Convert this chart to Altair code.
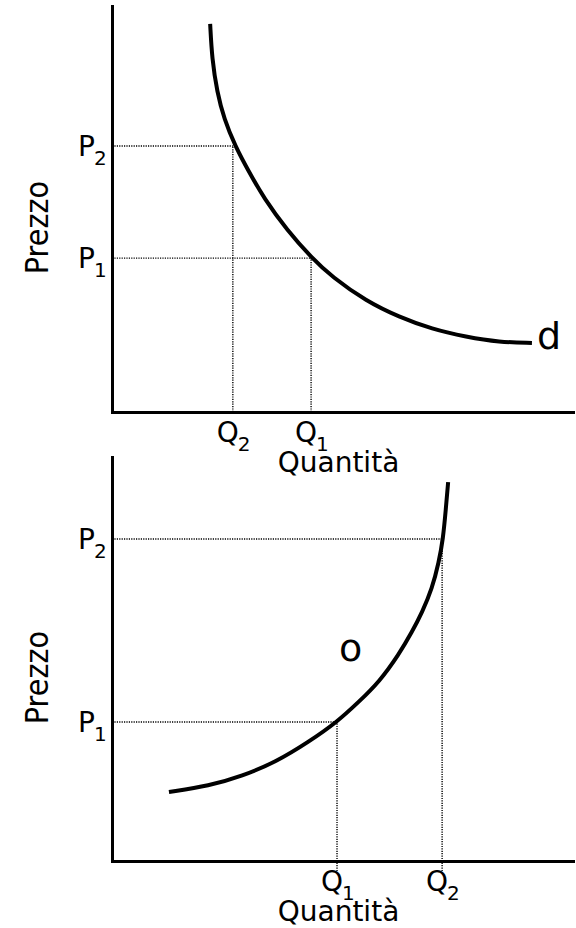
import altair as alt
import pandas as pd

# ---- Demand curve "d" (quantity, price) ----
dem_q = [2.12, 2.16, 2.27, 2.42, 2.66, 2.96, 3.28, 3.78, 4.32, 4.75, 5.49, 6.20, 6.91, 7.65, 8.36, 9.07]
dem_p = [9.56, 8.70, 7.88, 7.22, 6.55, 5.91, 5.27, 4.48, 3.79, 3.33, 2.73, 2.34, 2.04, 1.85, 1.72, 1.70]

# ---- Supply curve "o" (quantity, price) ----
sup_q = [1.23, 2.10, 2.81, 3.54, 4.25, 4.86, 5.33, 5.77, 6.20, 6.48, 6.70, 6.91, 7.06, 7.15, 7.21, 7.26]
sup_p = [1.71, 1.86, 2.10, 2.45, 2.95, 3.44, 3.94, 4.43, 5.12, 5.67, 6.16, 6.73, 7.40, 7.97, 8.71, 9.38]

# ---- Marked points: index 0 -> (Q1, P1), index 1 -> (Q2, P2) ----
subscripts = ["1", "2"]
dem_pts_q = [4.30, 2.61]
dem_pts_p = [3.79, 6.55]
sup_pts_q = [4.86, 7.13]
sup_pts_p = [3.44, 7.97]

# lower end of the vertical guides
dem_floor = 0.0
sup_floor = -0.25

FONT = "DejaVu Sans"
W = 463


def panel(curve_q, curve_p, pts_q, pts_p, floor, curve_name, name_idx, name_dx, name_dy, height):
    xs = alt.Scale(domain=[0, 10], nice=False, zero=False)
    ys = alt.Scale(domain=[0, 10], nice=False, zero=False)
    x_axis = alt.Axis(
        title="Quantità", domain=True, domainColor="black", domainWidth=3, domainCap="square",
        ticks=False, labels=False, grid=False,
        titleFont=FONT, titleFontSize=28, titleFontWeight="normal", titleColor="black",
        titleX=226, titleY=59, titleBaseline="alphabetic", titleAlign="center",
    )
    y_axis = alt.Axis(
        title="Prezzo", domain=True, domainColor="black", domainWidth=3, domainCap="square",
        ticks=False, labels=False, grid=False,
        titleFont="DejaVu Sans Condensed, DejaVu Sans", titleFontSize=32, titleFontWeight="normal",
        titleColor="black", titleAngle=270,
        titleX=-65, titleY=height / 2 + 18, titleBaseline="alphabetic", titleAlign="center",
    )
    X = alt.X("q:Q", scale=xs, axis=x_axis)
    Y = alt.Y("p:Q", scale=ys, axis=y_axis)

    curve = pd.DataFrame({"q": curve_q, "p": curve_p})
    pts = pd.DataFrame({"q": pts_q, "p": pts_p, "sub": subscripts})
    pts["zero"] = 0.0
    pts["floor"] = floor

    guide_style = dict(color="black", strokeWidth=1.4, strokeDash=[1.2, 1.2])
    h_guides = alt.Chart(pts).mark_rule(**guide_style).encode(
        x=alt.X("zero:Q", scale=xs, axis=x_axis), x2="q:Q", y=Y
    )
    v_guides = alt.Chart(pts).mark_rule(**guide_style).encode(
        x=X, y=alt.Y("floor:Q", scale=ys, axis=y_axis), y2="p:Q"
    )
    line = alt.Chart(curve).mark_line(
        color="black", strokeWidth=4, interpolate="basis", strokeCap="butt"
    ).encode(x=X, y=Y)

    # price labels on the vertical axis
    p_main = alt.Chart(pts).mark_text(
        text="P", font=FONT, fontSize=28, color="black", align="right", baseline="alphabetic", dx=-17, dy=10
    ).encode(x=alt.X("zero:Q", scale=xs, axis=x_axis), y=Y)
    p_sub = alt.Chart(pts).mark_text(
        font=FONT, fontSize=20, color="black", align="left", baseline="alphabetic", dx=-18, dy=19
    ).encode(x=alt.X("zero:Q", scale=xs, axis=x_axis), y=Y, text="sub:N")

    # quantity labels under the horizontal axis
    q_main = alt.Chart(pts).mark_text(
        text="Q", font=FONT, fontSize=28, color="black", align="right", baseline="alphabetic", dx=6, dy=30
    ).encode(x=X, y=alt.Y("zero:Q", scale=ys, axis=y_axis))
    q_sub = alt.Chart(pts).mark_text(
        font=FONT, fontSize=20, color="black", align="left", baseline="alphabetic", dx=5, dy=39
    ).encode(x=X, y=alt.Y("zero:Q", scale=ys, axis=y_axis), text="sub:N")

    name_df = pd.DataFrame({"q": [curve_q[name_idx]], "p": [curve_p[name_idx]], "name": [curve_name]})
    name = alt.Chart(name_df).mark_text(
        font=FONT, fontSize=38, color="black", align="left", baseline="alphabetic", dx=name_dx, dy=name_dy
    ).encode(x=X, y=Y, text="name:N")

    return alt.layer(h_guides, v_guides, line, p_main, p_sub, q_main, q_sub, name).properties(
        width=W, height=height
    )


top = panel(dem_q, dem_p, dem_pts_q, dem_pts_p, dem_floor, "d", len(dem_q) - 1, 5, 6, 406)
bottom = panel(sup_q, sup_p, sup_pts_q, sup_pts_p, sup_floor, "o", 8, -60, 7, 404)

chart = (
    alt.vconcat(top, bottom, spacing=45, bounds="flush")
    .properties(padding={"left": 21, "top": 6, "right": 0, "bottom": 0})
    .configure(background="white")
    .configure_view(stroke="transparent", strokeWidth=0)
)

chart.save("out.html", embed_options={"renderer": "svg", "actions": False})
